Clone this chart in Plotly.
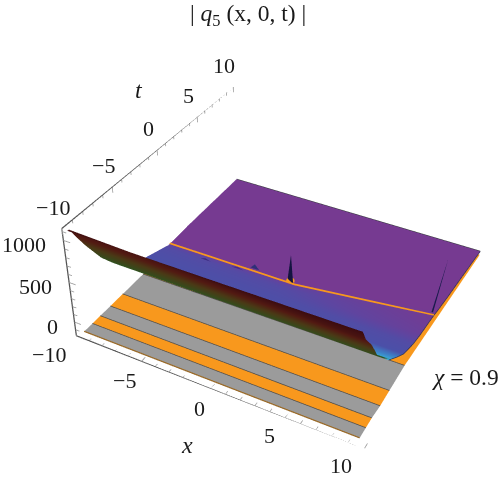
import plotly.graph_objects as go

# ---- axis ranges and ticks ----
x_range = [-10, 10]
t_range = [-10, 10]
z_range = [-180, 1135]
x_ticks = [-10, -5, 0, 5, 10]
t_ticks = [-10, -5, 0, 5, 10]
z_ticks = [0, 500, 1000]
x_minor = list(range(-10, 11))
t_minor = list(range(-10, 11))
z_minor = list(range(-100, 1101, 100))

# ---- floor stripes (t limits, colour names) ----
stripe_t = [-9.45, -8.6, -7.75, -6.65, -5.25, -2.85, 10]
stripe_kind = ["gray", "orange", "gray", "orange", "gray", "orange"]
floor_x_left = -9.8
floor_x_right = [9.45, 9.45, 9.45, 9.5, 9.5, 9.5, 10]

# ---- near wall of the surface, seen from below: end profiles ----
wall_x_left = [-9.6, -10, -10, -10, -10, -10, -10]
wall_t_left = [-10, -9.4, -8.8, -8.1, -6.8, -5.8, -4.9]
wall_z_left = [1130, 1062, 908, 739, 458, 290, 149]
wall_x_right = [9.3, 9.5, 9.8, 10, 10, 10, 10]
wall_t_right = [-10, -10, -9.95, -9.9, -9.3, -8.2, -7.5]
wall_z_right = [1130, 1060, 1020, 963, 817, 650, 555]
wall_shade = [0, 0.2, 0.4, 0.65, 0.9, 1, 1]

# ---- upper side of the surface: three columns ----
sheet_x_left = [-10, -10, -10, -10, -10, -10, -10, -10, -10, -9.9, -9.8]
sheet_x_mid = [0] * 11
sheet_x_right = [10] * 11
sheet_t_left = [-4.9, -3.3, -2.7, -2, -0.7, 0.2, 0.6, 1, 2.9, 5.7, 10]
sheet_t_mid = [-6, -4.9, -3.3, -2, -0.7, 0.2, 0.6, 1, 2.9, 5.7, 10]
sheet_t_right = [-7.5, -6, -4.9, -3.3, -2, -0.7, 0.4, 1, 2.9, 5.7, 10]
sheet_z_left = [149, 1, -20, -43, -101, -140, -160, -160, -153, -135, -120]
sheet_z_mid = [330, 210, 60, 20, -70, -150, -165, -165, -145, -130, -125]
sheet_z_right = [540, 382, 275, 190, 150, 125, 100, 80, 30, -30, -130]
sheet_c_left = [0.6, 0.6, 0.6, 0.6, 0.55, 0.5, 0.4, 0, 0, 0, 0]
sheet_c_mid = [0.6, 0.6, 0.6, 0.55, 0.5, 0.45, 0.35, 0, 0, 0, 0]
sheet_c_right = [1, 0.85, 0.6, 0.5, 0.2, 0.1, 0.05, 0, 0, 0, 0]

# ---- orange ridge line on the surface ----
ridge_x = [-10, 0, 10]
ridge_t = [0.8, 0.85, 0.35]
ridge_z = [-152, -157, 106]

# ---- spikes and small bumps: base x, t, z and tip x, t, z ----
spike_x = [-0.4, 9.8, -6.7, -4.3, -3.2]
spike_t = [1.0, 0.6, 0.3, 0.6, 1.1]
spike_base = [-165, 100, -158, -163, -160]
spike_tip_x = [-0.4, 9.9, -6.7, -4.3, -3.2]
spike_tip_t = [1.0, 2.2, 0.3, 0.6, 1.1]
spike_top = [195, 600, -124, -139, -98]
spike_w = [0.22, 0.05, 0.6, 0.5, 0.35]
spike_color = ["#141440", "#1a1a4c", "#3a2a80", "#4a2a8a", "#2f2f78"]

GRAY, ORANGE = "#9b9b9b", "#f8981d"
FIG_W, FIG_H = 853, 822
WIN_W, WIN_H = 500, 482
OX, OY = (FIG_W - WIN_W) // 2, (FIG_H - WIN_H) // 2
SERIF = "Liberation Serif"
FLAT = dict(ambient=1, diffuse=0, specular=0, fresnel=0, roughness=1)


def flat_scale(c):
    return [[0, c], [1, c]]


lo, hi = z_range
fig = go.Figure()

# floor
for i, kind in enumerate(stripe_kind):
    c = GRAY if kind == "gray" else ORANGE
    xs = [[floor_x_left, floor_x_right[i]], [floor_x_left, floor_x_right[i + 1]]]
    ts = [[stripe_t[i], stripe_t[i]], [stripe_t[i + 1], stripe_t[i + 1]]]
    fig.add_trace(go.Surface(x=xs, y=ts, z=[[lo + 1, lo + 1], [lo + 1, lo + 1]],
                             surfacecolor=[[0, 0], [0, 0]], colorscale=flat_scale(c),
                             showscale=False, lighting=FLAT, hoverinfo="skip"))
ex, et, ez = [], [], []
for i in range(1, 6):
    ex += [floor_x_left, floor_x_right[i], None]
    et += [stripe_t[i], stripe_t[i], None]
    ez += [lo + 3, lo + 3, None]
fig.add_trace(go.Scatter3d(x=ex, y=et, z=ez, mode="lines", line=dict(color="#55504a", width=2), hoverinfo="skip"))
fig.add_trace(go.Scatter3d(x=[floor_x_left, floor_x_right[0]], y=[stripe_t[0]] * 2, z=[lo + 3] * 2, mode="lines",
                           line=dict(color="#9a6a28", width=2.5), hoverinfo="skip"))

# upper sheet
sheet_xs = [list(r) for r in zip(sheet_x_left, sheet_x_mid, sheet_x_right)]
sheet_ts = [list(r) for r in zip(sheet_t_left, sheet_t_mid, sheet_t_right)]
sheet_zs = [list(r) for r in zip(sheet_z_left, sheet_z_mid, sheet_z_right)]
sheet_cs = [list(r) for r in zip(sheet_c_left, sheet_c_mid, sheet_c_right)]
fig.add_trace(go.Surface(x=sheet_xs, y=sheet_ts, z=sheet_zs, surfacecolor=sheet_cs, cmin=0, cmax=1,
                         colorscale=[[0, "#763a91"], [0.35, "#5f45a0"], [0.6, "#4b50a8"], [0.85, "#3f7cc4"], [1, "#36b4dc"]],
                         showscale=False, lighting=FLAT, hoverinfo="skip"))

# wall
wall_xs = [list(r) for r in zip(wall_x_left, wall_x_right)]
wall_ts = [list(r) for r in zip(wall_t_left, wall_t_right)]
wall_zs = [list(r) for r in zip(wall_z_left, wall_z_right)]
wall_cs = [[v, v] for v in wall_shade]
fig.add_trace(go.Surface(x=wall_xs, y=wall_ts, z=wall_zs, surfacecolor=wall_cs, cmin=0, cmax=1,
                         colorscale=[[0, "#3c0c10"], [0.35, "#521a12"], [0.65, "#4a3a16"], [1, "#2c5420"]],
                         showscale=False, lighting=FLAT, hoverinfo="skip"))

# sheet outline
fig.add_trace(go.Scatter3d(x=[sheet_x_left[-1], sheet_x_mid[-1], sheet_x_right[-1]], y=[10, 10, 10],
                           z=[sheet_z_left[-1], sheet_z_mid[-1], sheet_z_right[-1]],
                           mode="lines", line=dict(color="#3c3c44", width=2), hoverinfo="skip"))
fig.add_trace(go.Scatter3d(x=sheet_x_right, y=sheet_t_right, z=sheet_z_right, mode="lines",
                           line=dict(color="#303050", width=1.5), hoverinfo="skip"))

# ridge
fig.add_trace(go.Scatter3d(x=ridge_x, y=ridge_t, z=ridge_z, mode="lines", line=dict(color=ORANGE, width=3.5), hoverinfo="skip"))
fig.add_trace(go.Scatter3d(x=[spike_x[0]], y=[spike_t[0]], z=[spike_base[0] + 12], mode="markers",
                           marker=dict(color=ORANGE, size=5), hoverinfo="skip"))

# spikes
for sx, st, sb, tx, tt, stp, sw, sc in zip(spike_x, spike_t, spike_base, spike_tip_x, spike_tip_t, spike_top, spike_w, spike_color):
    fig.add_trace(go.Mesh3d(x=[sx - sw, sx + sw, tx], y=[st, st, tt], z=[sb, sb, stp], i=[0], j=[1], k=[2],
                            color=sc, flatshading=True, lighting=FLAT, hoverinfo="skip"))

# axes drawn in data coordinates
def segs(points):
    xs, ys, zs = [], [], []
    for a, b in points:
        xs += [a[0], b[0], None]
        ys += [a[1], b[1], None]
        zs += [a[2], b[2], None]
    return xs, ys, zs

ax_pts = [((-10, -10, lo), (10, -10, lo)), ((-10, -10, lo), (-10, -10, hi)), ((-10, -10, hi), (-10, 10, hi))]
xs, ys, zs = segs(ax_pts)
fig.add_trace(go.Scatter3d(x=xs, y=ys, z=zs, mode="lines", line=dict(color="#555555", width=2.5), hoverinfo="skip"))
tk = []
for v in x_minor:
    tk.append(((v, -10, lo), (v, -9.6 if v in x_ticks else -9.75, lo)))
for v in t_minor:
    tk.append(((-10, v, hi), (-10, v, hi - (70 if v in t_ticks else 40))))
for v in z_minor:
    tk.append(((-10, -10, v), (-9.5 if v in z_ticks else -9.7, -10, v)))
xs, ys, zs = segs(tk)
fig.add_trace(go.Scatter3d(x=xs, y=ys, z=zs, mode="lines", line=dict(color="#9a9a9a", width=1.6), hoverinfo="skip"))


def num(v):
    return str(v).replace("-", "\u2212")


font = dict(family=SERIF, size=22, color="#1a1a1a")
x_label_dx = {-10: -27, -5: -17, 0: -12, 5: -16, 10: -24}
x_label_dy = {-10: -19, -5: -19, 0: -20, 5: -18, 10: -17}
scene_notes = []
for v in x_ticks:
    scene_notes.append(dict(x=v, y=-10, z=lo, text=num(v), showarrow=False, xanchor="center", yanchor="middle",
                            xshift=x_label_dx[v], yshift=x_label_dy[v], font=font))
for v in t_ticks:
    scene_notes.append(dict(x=-10, y=v, z=hi, text=num(v), showarrow=False, xanchor="center", yanchor="middle",
                            xshift=-9, yshift=21, font=font))
for v in z_ticks:
    scene_notes.append(dict(x=-10, y=-10, z=v, text=num(v), showarrow=False, xanchor="right", yanchor="middle",
                            xshift=-15, yshift=-4, font=font))


def note(px, py, text, size):
    return dict(xref="paper", yref="paper", x=(px + OX) / FIG_W, y=1 - (py + OY) / FIG_H, text=text, showarrow=False,
                xanchor="center", yanchor="middle", font=dict(family=SERIF, size=size, color="#1a1a1a"))


hidden = dict(visible=False)
fig.update_layout(
    width=FIG_W, height=FIG_H, margin=dict(l=0, r=0, t=0, b=0), showlegend=False, paper_bgcolor="white",
    annotations=[
        note(248, 15, "| <i>q</i><sub>5</sub> (x, 0, t) |", 23.5),
        note(187, 445, "<i>x</i>", 24),
        note(139, 90, "<i>t</i>", 24),
        note(465, 377, "<i>\u03c7</i> = 0.9", 23.5),
    ],
    scene=dict(
        xaxis=dict(range=x_range, **hidden), yaxis=dict(range=t_range, **hidden), zaxis=dict(range=z_range, **hidden),
        aspectmode="manual", aspectratio=dict(x=1, y=1.036, z=0.42),
        camera=dict(eye=dict(x=1.134, y=-2.359, z=1.899), center=dict(x=-0.115, y=-0.058, z=0.005), up=dict(x=0, y=0, z=1)),
        annotations=scene_notes,
    ),
)
fig.write_html("out.html", post_script=(
    "document.body.style.margin='0';document.body.style.overflow='hidden';"
    "var g=document.getElementById('{plot_id}');g.style.position='fixed';"
    "g.style.left='-%dpx';g.style.top='-%dpx';" % (OX, OY)))
